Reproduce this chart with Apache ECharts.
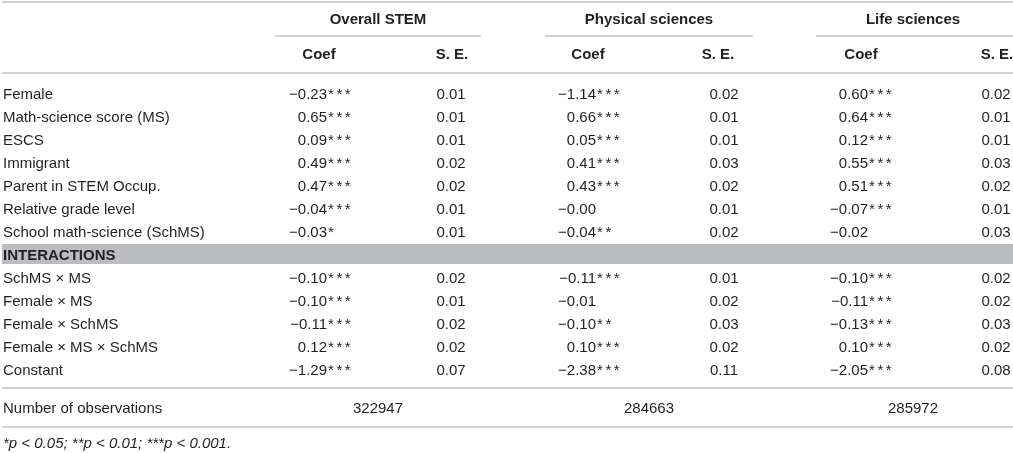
<!DOCTYPE html>
<html>
<head>
<meta charset="utf-8">
<script src="https://cdn.jsdelivr.net/npm/echarts@6/dist/echarts.min.js"></script>
<style>
  html, body { margin: 0; background: #fff; }
  #chart { width: 1013px; height: 453px; }
</style>
</head>
<body>
<div id="chart"></div>
<script>
// table data
const groups = ['Overall STEM', 'Physical sciences', 'Life sciences'];
const subHeads = ['Coef', 'S. E.'];
const rowLabels = [
  'Female', 'Math-science score (MS)', 'ESCS', 'Immigrant', 'Parent in STEM Occup.',
  'Relative grade level', 'School math-science (SchMS)', 'INTERACTIONS',
  'SchMS × MS', 'Female × MS', 'Female × SchMS', 'Female × MS × SchMS', 'Constant'
];
const overallCoef  = [-0.23, 0.65, 0.09, 0.49, 0.47, -0.04, -0.03, null, -0.10, -0.10, -0.11, 0.12, -1.29];
const overallStars = ['***', '***', '***', '***', '***', '***', '*', null, '***', '***', '***', '***', '***'];
const overallSE    = [0.01, 0.01, 0.01, 0.02, 0.02, 0.01, 0.01, null, 0.02, 0.01, 0.02, 0.02, 0.07];
const physCoef  = [-1.14, 0.66, 0.05, 0.41, 0.43, -0.00, -0.04, null, -0.11, -0.01, -0.10, 0.10, -2.38];
const physStars = ['***', '***', '***', '***', '***', '', '**', null, '***', '', '**', '***', '***'];
const physSE    = [0.02, 0.01, 0.01, 0.03, 0.02, 0.01, 0.02, null, 0.01, 0.02, 0.03, 0.02, 0.11];
const lifeCoef  = [0.60, 0.64, 0.12, 0.55, 0.51, -0.07, -0.02, null, -0.10, -0.11, -0.13, 0.10, -2.05];
const lifeStars = ['***', '***', '***', '***', '***', '***', '', null, '***', '***', '***', '***', '***'];
const lifeSE    = [0.02, 0.01, 0.01, 0.03, 0.02, 0.01, 0.03, null, 0.02, 0.02, 0.03, 0.02, 0.08];
const obsLabel = 'Number of observations';
const observations = [322947, 284663, 285972];
const footnote = '*p < 0.05; **p < 0.01; ***p < 0.001.';

// layout (pixels along the hidden x axis)
const labelX = 3;
const coefEnd = [327, 596, 868];
const starStep = 8.4;
const seX = [451, 724, 996];
const groupX = [378, 649, 913];
const coefHeadX = [319, 588, 861];
const seHeadX = [452, 718, 997];
const groupRule = [[275, 481], [545, 753], [816, 1013]];

const INK = '#231f20';
const RULE = '#c2c2c2';
const FONT = '"Liberation Sans", Arial, sans-serif';
const boldRow = 'INTERACTIONS';

const coefCols = [overallCoef, physCoef, lifeCoef];
const starCols = [overallStars, physStars, lifeStars];
const seCols = [overallSE, physSE, lifeSE];

function fmt(v) {
  if (v < 0 || Object.is(v, -0)) return '\u2212' + Math.abs(v).toFixed(2);
  return v.toFixed(2);
}

// cells per grid: header (0), body (1), observations (2), footnote (3)
const headCells = [], bodyCells = [], obsCells = [], noteCells = [];
groups.forEach(function (g, k) {
  headCells.push({ value: [groupX[k], 0], text: g, align: 'center', bold: true });
  headCells.push({ value: [coefHeadX[k], 1], text: subHeads[0], align: 'center', bold: true });
  headCells.push({ value: [seHeadX[k], 1], text: subHeads[1], align: 'center', bold: true });
});
rowLabels.forEach(function (lab, i) {
  bodyCells.push({ value: [labelX, i], text: lab, align: 'left', bold: lab === boldRow });
  for (let k = 0; k < 3; k++) {
    const c = coefCols[k][i];
    if (c === null) continue;
    bodyCells.push({ value: [coefEnd[k], i], text: fmt(c), align: 'right' });
    const s = starCols[k][i] || '';
    for (let j = 0; j < s.length; j++) {
      bodyCells.push({ value: [coefEnd[k] + 1 + j * starStep, i], text: '*', align: 'left' });
    }
    bodyCells.push({ value: [seX[k], i], text: seCols[k][i].toFixed(2), align: 'center' });
  }
});
obsCells.push({ value: [labelX, 0], text: obsLabel, align: 'left' });
observations.forEach(function (n, k) {
  obsCells.push({ value: [groupX[k], 0], text: String(n), align: 'center' });
});
noteCells.push({ value: [labelX, 0], text: footnote, align: 'left', italic: true });

function textSeries(cells, idx) {
  return {
    type: 'custom',
    xAxisIndex: idx,
    yAxisIndex: idx,
    silent: true,
    data: cells.map(c => c.value),
    renderItem: function (params, api) {
      const c = cells[params.dataIndex];
      const p = api.coord([api.value(0), api.value(1)]);
      return {
        type: 'text',
        x: p[0],
        y: p[1],
        style: {
          text: c.text,
          fill: INK,
          font: (c.italic ? 'italic ' : '') + (c.bold ? 'bold ' : '') + '15px ' + FONT,
          align: c.align,
          textAlign: c.align,
          verticalAlign: 'middle',
          textVerticalAlign: 'middle'
        }
      };
    }
  };
}

function hLine(x1, x2, y) {
  return { type: 'line', shape: { x1: x1, y1: y, x2: x2, y2: y }, style: { stroke: RULE, lineWidth: 1.6 }, silent: true };
}

const chart = echarts.init(document.getElementById('chart'), null, { renderer: 'canvas' });

const xAxis = [0, 1, 2, 3].map(i => ({ type: 'value', gridIndex: i, min: 0, max: 1013, show: false }));
const yAxis = [
  { type: 'category', gridIndex: 0, data: ['group', 'sub'], inverse: true, show: false },
  { type: 'category', gridIndex: 1, data: rowLabels, inverse: true, show: false },
  { type: 'category', gridIndex: 2, data: [obsLabel], inverse: true, show: false },
  { type: 'category', gridIndex: 3, data: ['note'], inverse: true, show: false }
];

const option = {
  animation: false,
  backgroundColor: '#fff',
  grid: [
    { left: 0, right: 0, top: 2.5, height: 70 },
    { left: 0, right: 0, top: 83, height: 299 },
    { left: 0, right: 0, top: 397, height: 23 },
    { left: 0, right: 0, top: 435, height: 18 }
  ],
  xAxis: xAxis,
  yAxis: yAxis,
  graphic: [
    { type: 'rect', z: -1, shape: { x: 2, y: 244, width: 1011, height: 20 }, style: { fill: '#bcbdc0' }, silent: true },
    hLine(2, 1013, 2),
    hLine(2, 1013, 73),
    hLine(groupRule[0][0], groupRule[0][1], 36),
    hLine(groupRule[1][0], groupRule[1][1], 36),
    hLine(groupRule[2][0], groupRule[2][1], 36),
    hLine(2, 1013, 388),
    hLine(2, 1013, 427)
  ],
  series: [textSeries(headCells, 0), textSeries(bodyCells, 1), textSeries(obsCells, 2), textSeries(noteCells, 3)]
};
chart.setOption(option);
</script>
</body>
</html>
